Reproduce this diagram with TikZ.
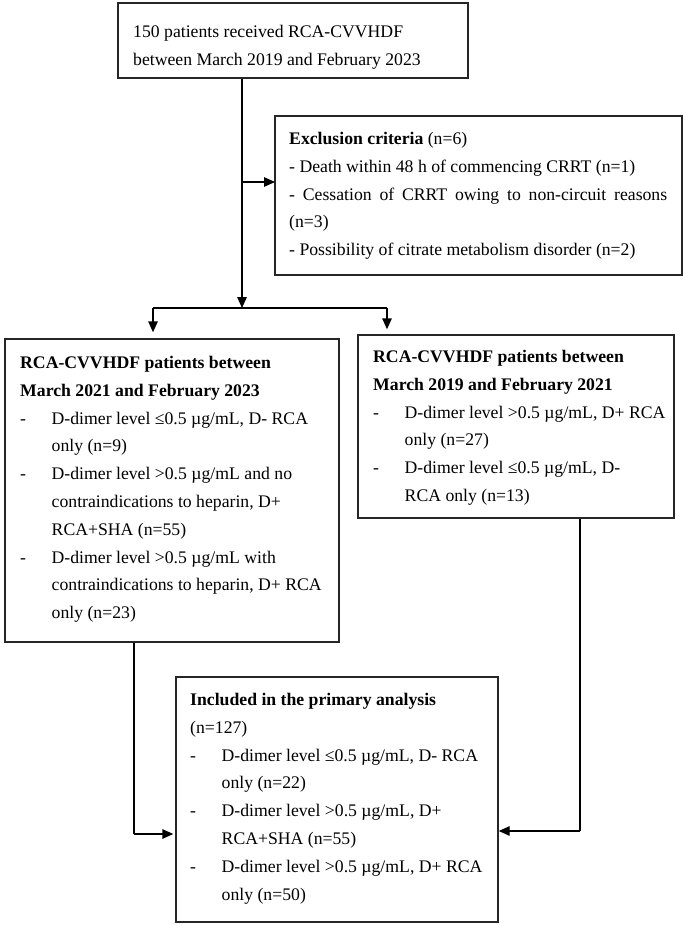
\documentclass[tikz,border=0pt]{standalone}
\usepackage{fontspec}
\setmainfont{Liberation Serif}
\usetikzlibrary{arrows.meta}
\newcommand\hitem[2]{\makebox[31.5pt][l]{-}#1\\\hspace*{31.5pt}#2}
\begin{document}
\begin{tikzpicture}[x=1pt,y=-1pt,
  box/.style={draw=black!85,line width=1.4pt,inner sep=0pt},
  txt/.style={inner sep=0pt,anchor=north west,align=left,font=\fontsize{17.7}{27.8}\selectfont},
  arr/.style={line width=1.4pt,-{Triangle[length=11pt,width=9.5pt]}},
  ln/.style={line width=1.4pt}]
\useasboundingbox (0,0) rectangle (685,925);
\fill[white] (0,0) rectangle (685,925);
% boxes
\node[box,minimum width=350pt,minimum height=75pt] (top) at (293,40.5) {};
\node[box,minimum width=407pt,minimum height=159pt] (excl) at (478.5,195.5) {};
\node[box,minimum width=334pt,minimum height=303pt] (left) at (172,490.5) {};
\node[box,minimum width=316pt,minimum height=183pt] (right) at (516,426.5) {};
\node[box,minimum width=322pt,minimum height=245pt] (incl) at (337,799.5) {};
% texts
\node[txt] (ttop) at (133,25) {150 patients received RCA-CVVHDF\\between March 2019 and February 2023};
\node[txt] (texcl) at (289,132) {\textbf{Exclusion criteria} (n=6)\\
- Death within 48 h of commencing CRRT (n=1)\\
\makebox[378pt][s]{- Cessation of CRRT owing to non-circuit reasons}\\
(n=3)\\
- Possibility of citrate metabolism disorder (n=2)};
\node[txt] (tleft) at (20,356) {\textbf{RCA-CVVHDF patients between}\\
\textbf{March 2021 and February 2023}\\
\hitem{D-dimer level ≤0.5 µg/mL, D- RCA}{only (n=9)}\\
\hitem{D-dimer level >0.5 µg/mL and no}{contraindications to heparin, D+}\\
\hspace*{31.5pt}RCA+SHA (n=55)\\
\hitem{D-dimer level >0.5 µg/mL with}{contraindications to heparin, D+ RCA}\\
\hspace*{31.5pt}only (n=23)};
\node[txt] (tright) at (373,350) {\textbf{RCA-CVVHDF patients between}\\
\textbf{March 2019 and February 2021}\\
\hitem{D-dimer level >0.5 µg/mL, D+ RCA}{only (n=27)}\\
\hitem{D-dimer level ≤0.5 µg/mL, D-}{RCA only (n=13)}};
\node[txt] (tincl) at (190,693) {\textbf{Included in the primary analysis}\\
(n=127)\\
\hitem{D-dimer level ≤0.5 µg/mL, D- RCA}{only (n=22)}\\
\hitem{D-dimer level >0.5 µg/mL, D+}{RCA+SHA (n=55)}\\
\hitem{D-dimer level >0.5 µg/mL, D+ RCA}{only (n=50)}};
% connector coordinates
\coordinate (split) at (242,308);
\coordinate (sl) at (153,308);
\coordinate (sr) at (387,308);
\coordinate (ex) at (275,182);
\coordinate (lb) at (134,834);
\coordinate (rb) at (580,831);
% connectors
\draw[arr] (split |- top.south) -- (split);
\draw[arr] (split |- ex) -- (ex);
\draw[ln] (sl) -- (sr);
\draw[arr,shorten >=6pt] (sl) -- (sl |- left.north);
\draw[arr,shorten >=5pt] (sr) -- (sr |- right.north);
\draw[ln] (lb |- left.south) -- (lb);
\draw[arr,shorten >=2pt] (lb) -- (lb -| incl.west);
\draw[ln] (rb |- right.south) -- (rb);
\draw[arr] (rb) -- (rb -| incl.east);
\end{tikzpicture}
\end{document}
